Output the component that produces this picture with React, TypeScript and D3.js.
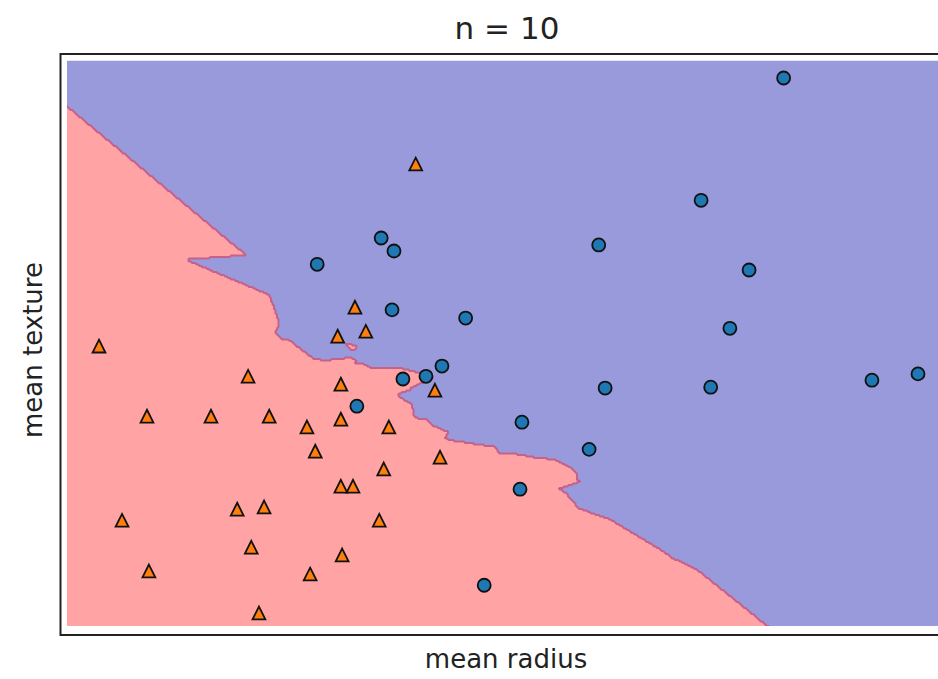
import React, { useMemo } from "react";
import * as d3 from "d3";

// Breast cancer subset: two features per sample, split by class.
// Class 0 (malignant) drawn as circles, class 1 (benign) as triangles.
const malignantRadius = [
  20.2, 18.91, 17.31, 19.66, 13.91, 14.11, 12.91, 14.08, 15.23, 19.36, 14.86,
  14.61, 14.25, 17.41, 19.06, 21.58, 22.3, 13.53, 16.11, 17.16, 16.08, 15.52,
];
const malignantTexture = [
  28.19, 24.14, 22.66, 21.83, 22.89, 22.46, 22.02, 20.51, 20.24, 19.9, 18.65,
  18.31, 18.22, 17.92, 17.95, 18.18, 18.39, 17.32, 16.79, 15.89, 14.57, 11.39,
];
const benignRadius = [
  14.45, 13.5, 13.23, 13.67, 9.5, 11.83, 13.28, 14.75, 10.25, 11.25, 12.16,
  13.28, 12.75, 14.03, 12.88, 14.83, 13.95, 13.28, 13.47, 9.86, 11.66, 12.08,
  13.88, 11.88, 10.28, 12.8, 13.3, 12.0,
];
const benignTexture = [
  25.34, 20.6, 19.64, 19.8, 19.31, 18.31, 18.05, 17.85, 16.99, 16.99, 16.99,
  16.89, 16.63, 16.63, 15.83, 15.63, 15.24, 14.67, 14.67, 13.54, 13.91, 13.98,
  13.54, 12.65, 11.86, 11.76, 12.39, 10.47,
];

const nNeighbors = 10;
const featureNames = ["mean radius", "mean texture"];

type Sample = { r: number; t: number; label: 0 | 1 };

const samples: Sample[] = [
  ...malignantRadius.map((r, i) => ({ r, t: malignantTexture[i], label: 0 as const })),
  ...benignRadius.map((r, i) => ({ r, t: benignTexture[i], label: 1 as const })),
];

// k-nearest-neighbour vote; ties go to class 0 (lowest label wins).
function predict(r: number, t: number, k: number): number {
  const best: number[] = [];
  const bestLabel: number[] = [];
  for (const s of samples) {
    const d = (s.r - r) ** 2 + (s.t - t) ** 2;
    if (best.length < k || d < best[best.length - 1]) {
      let pos = best.length;
      while (pos > 0 && best[pos - 1] > d) pos--;
      best.splice(pos, 0, d);
      bestLabel.splice(pos, 0, s.label);
      if (best.length > k) {
        best.pop();
        bestLabel.pop();
      }
    }
  }
  let ones = 0;
  for (const l of bestLabel) ones += l;
  return ones > k - ones ? 1 : 0;
}

const W = 938;
const H = 679;
// pixel extent of the padded feature domain, and the visible shaded box
const scaleBox = { left: 67, right: 950, top: 62.9, bottom: 628.1 };
const area = { left: 67, right: 950, top: 60.5, bottom: 626 };
const frame = { left: 60.5, right: 956, top: 54, bottom: 635 };

const BLUE_FILL = "#989adc";
const RED_FILL = "#ffa3a4";
const EDGE = "#c4628c";

export default function App() {
  const { x, y, regionPath } = useMemo(() => {
    const allR = samples.map((s) => s.r);
    const allT = samples.map((s) => s.t);
    const [rMin, rMax] = d3.extent(allR) as [number, number];
    const [tMin, tMax] = d3.extent(allT) as [number, number];
    const x = d3
      .scaleLinear()
      .domain([rMin - 0.5, rMax + 0.5])
      .range([scaleBox.left, scaleBox.right]);
    const y = d3
      .scaleLinear()
      .domain([tMin - 0.5, tMax + 0.5])
      .range([scaleBox.bottom, scaleBox.top]);

    const cell = 1.5;
    const pad = 4;
    const x0 = area.left - pad * cell;
    const y0 = area.top - pad * cell;
    const nx = Math.ceil((area.right - area.left) / cell) + 2 * pad;
    const ny = Math.ceil((area.bottom - area.top) / cell) + 2 * pad;
    const values = new Float64Array(nx * ny);
    for (let j = 0; j < ny; j++) {
      const t = y.invert(y0 + (j + 0.5) * cell);
      for (let i = 0; i < nx; i++) {
        const r = x.invert(x0 + (i + 0.5) * cell);
        values[j * nx + i] = predict(r, t, nNeighbors);
      }
    }
    const contours = d3.contours().size([nx, ny]).thresholds([0.5])(Array.from(values));
    const toPixels = d3.geoTransform({
      point(gx: number, gy: number) {
        this.stream.point(x0 + gx * cell, y0 + gy * cell);
      },
    });
    const regionPath = d3.geoPath(toPixels)(contours[0] as any) || "";
    return { x, y, regionPath };
  }, []);

  const tri = (cx: number, cy: number, h: number) =>
    `M${cx},${cy - h}L${cx + h},${cy + h}L${cx - h},${cy + h}Z`;

  return (
    <div style={{ position: "absolute", left: 0, top: 0 }}>
      <svg width={W} height={H} style={{ display: "block", background: "#fff" }}>
        <defs>
          <clipPath id="plot-area">
            <rect
              x={area.left}
              y={area.top}
              width={area.right - area.left}
              height={area.bottom - area.top}
            />
          </clipPath>
        </defs>
        <g clipPath="url(#plot-area)">
          <rect
            x={area.left}
            y={area.top}
            width={area.right - area.left}
            height={area.bottom - area.top}
            fill={BLUE_FILL}
          />
          <path d={regionPath} fill={RED_FILL} stroke={EDGE} strokeWidth={2} strokeLinejoin="round" />
        </g>
        <rect
          x={frame.left}
          y={frame.top}
          width={frame.right - frame.left}
          height={frame.bottom - frame.top}
          fill="none"
          stroke="#222"
          strokeWidth={2}
        />
        <g>
          {samples.map((s, i) =>
            s.label === 0 ? (
              <circle
                key={i}
                cx={x(s.r)}
                cy={y(s.t)}
                r={6.5}
                fill="#1f77b4"
                stroke="#111"
                strokeWidth={1.8}
              />
            ) : (
              <path
                key={i}
                d={tri(x(s.r), y(s.t), 6.4)}
                fill="#ff7f0e"
                stroke="#111"
                strokeWidth={1.8}
              />
            )
          )}
        </g>
        <text x={507} y={39} textAnchor="middle" fontFamily="DejaVu Sans" fontSize={31} fill="#222">
          n = {nNeighbors}
        </text>
        <text x={506} y={668} textAnchor="middle" fontFamily="DejaVu Sans" fontSize={26} fill="#222">
          {featureNames[0]}
        </text>
        <text
          transform={`translate(42,350) rotate(-90)`}
          textAnchor="middle"
          fontFamily="DejaVu Sans"
          fontSize={26}
          fill="#222"
        >
          {featureNames[1]}
        </text>
      </svg>
    </div>
  );
}
